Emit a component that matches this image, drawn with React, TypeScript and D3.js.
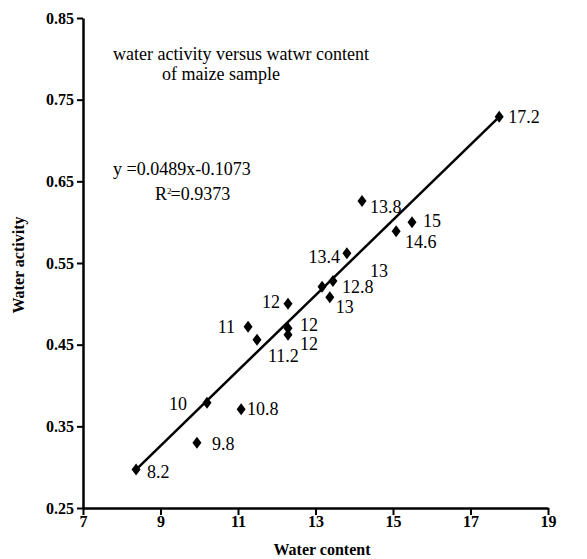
import React, { useEffect, useRef } from "react";
import * as d3 from "d3";

// data
const waterContent = [8.37, 9.94, 10.2, 11.08, 11.26, 11.49, 12.29, 12.29, 12.29, 13.17, 13.45, 13.37, 13.81, 14.2, 15.08, 15.49, 17.74];
const waterActivity = [0.297, 0.33, 0.379, 0.371, 0.472, 0.456, 0.5, 0.47, 0.462, 0.521, 0.528, 0.508, 0.562, 0.626, 0.589, 0.6, 0.729];
const pointLabels = ["8.2", "9.8", "10", "10.8", "11", "11.2", "12", "12", "12", "13", "12.8", "13", "13.4", "13.8", "14.6", "15", "17.2"];
// label placement: [dx, dy, anchor]
const labelOffsets: [number, number, string][] = [
  [11, 8, "start"], [15, 7, "start"], [-20, 7, "end"], [6, 6, "start"], [-13, 6, "end"],
  [11, 22, "start"], [-8, 4, "end"], [12, 3, "start"], [12, 15, "start"], [48, -10, "start"],
  [9, 12, "start"], [6, 16, "start"], [-7, 10, "end"], [8, 12, "start"], [9, 17, "start"],
  [11, 5, "start"], [9, 6, "start"],
];
const trendX = [8.37, 17.74];
const trendY = [0.297, 0.729];
const xTicks = [7, 9, 11, 13, 15, 17, 19];
const yTicks = [0.25, 0.35, 0.45, 0.55, 0.65, 0.75, 0.85];
const titleLines = ["water activity versus watwr content", "of maize sample"];
const equation = "y =0.0489x-0.1073";
const rSquared = "=0.9373";

const FONT = "'Liberation Serif', 'Times New Roman', serif";

export default function App() {
  const ref = useRef<SVGSVGElement>(null);

  useEffect(() => {
    const width = 587;
    const height = 559;
    const svg = d3.select(ref.current).attr("width", width).attr("height", height);
    svg.selectAll("*").remove();

    const x = d3.scaleLinear().domain([7, 19]).range([83, 548]);
    const y = d3.scaleLinear().domain([0.25, 0.85]).range([508, 18]);

    const yAxis = svg.append("g")
      .attr("transform", "translate(83,0)")
      .call(d3.axisLeft(y).tickValues(yTicks).tickFormat(d3.format(".2f")).tickSize(6).tickSizeOuter(0).tickPadding(3));
    const xAxis = svg.append("g")
      .attr("transform", "translate(0,508)")
      .call(d3.axisBottom(x).tickValues(xTicks).tickFormat(d3.format("d")).tickSize(7).tickSizeOuter(0).tickPadding(1));

    [xAxis, yAxis].forEach(g => {
      g.select(".domain").attr("stroke", "#000").attr("stroke-width", 2.5);
      g.selectAll(".tick line").attr("stroke", "#000").attr("stroke-width", 2);
      g.selectAll(".tick text")
        .attr("fill", "#000")
        .style("font-family", FONT)
        .style("font-weight", "bold")
        .style("font-size", "16px");
    });

    // regression line
    const line = d3.line<number>().x(d => x(trendX[d])).y(d => y(trendY[d]));
    svg.append("path")
      .attr("d", line([0, 1]))
      .attr("stroke", "#000")
      .attr("stroke-width", 2.5)
      .attr("fill", "none");

    // diamond markers
    const diamond = "M0,-6L4.5,0L0,6L-4.5,0Z";
    svg.selectAll(".pt").data(waterContent)
      .join("path")
      .attr("class", "pt")
      .attr("d", diamond)
      .attr("transform", (d, i) => `translate(${x(d)},${y(waterActivity[i])})`)
      .attr("fill", "#000");

    svg.selectAll(".lbl").data(pointLabels)
      .join("text")
      .attr("class", "lbl")
      .attr("x", (d, i) => x(waterContent[i]) + labelOffsets[i][0])
      .attr("y", (d, i) => y(waterActivity[i]) + labelOffsets[i][1])
      .attr("text-anchor", (d, i) => labelOffsets[i][2])
      .style("font-family", FONT)
      .style("font-size", "18px")
      .text(d => d);

    // title annotation
    svg.append("text")
      .attr("x", 113).attr("y", 60)
      .style("font-family", FONT).style("font-size", "18px")
      .text(titleLines[0]);
    svg.append("text")
      .attr("x", 162).attr("y", 80)
      .style("font-family", FONT).style("font-size", "18px")
      .text(titleLines[1]);

    svg.append("text")
      .attr("x", 113).attr("y", 175)
      .style("font-family", FONT).style("font-size", "18px")
      .text(equation);
    const r2 = svg.append("text")
      .attr("x", 155).attr("y", 200)
      .style("font-family", FONT).style("font-size", "18px");
    r2.append("tspan").text("R");
    r2.append("tspan").attr("dy", -6).style("font-size", "9px").text("2");
    r2.append("tspan").attr("dy", 6).attr("dx", -1).text(rSquared);

    // axis titles
    svg.append("text")
      .attr("text-anchor", "middle")
      .attr("x", 322).attr("y", 555)
      .style("font-family", FONT).style("font-weight", "bold").style("font-size", "16px")
      .text("Water content");
    svg.append("text")
      .attr("text-anchor", "middle")
      .attr("transform", "translate(24,265) rotate(-90)")
      .style("font-family", FONT).style("font-weight", "bold").style("font-size", "16px")
      .text("Water activity");
  }, []);

  return <svg ref={ref} style={{ position: "absolute", left: 0, top: 0, background: "#fff" }} />;
}
